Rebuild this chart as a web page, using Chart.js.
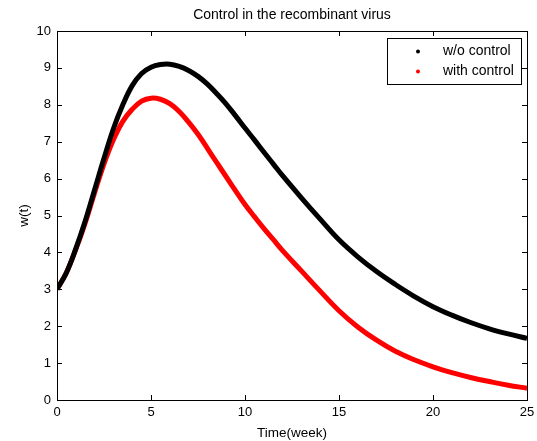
<!DOCTYPE html>
<html lang="en">
<head>
    <meta charset="UTF-8">
    <title>Control in the recombinant virus</title>
    <script src="https://cdn.jsdelivr.net/npm/chart.js"></script>
    <style>
        body { margin: 0; background: #fff; }
        #wrap { width: 537px; height: 441px; }
    </style>
</head>
<body>
    <div id="wrap"><canvas id="virusChart"></canvas></div>

    <script>
        // time in weeks (half steps where the curves bend)
        const weeks = [0, 0.5, 1, 1.5, 2, 2.5, 3, 3.5, 4, 4.5, 5, 5.5, 6, 6.5, 7, 7.5, 8, 8.5, 9, 9.5, 10, 10.5, 11, 11.5, 12,
                       13, 14, 15, 16, 17, 18, 19, 20, 21, 22, 23, 24, 25];
        const withoutControl = [3.0, 3.45, 4.1, 4.85, 5.7, 6.55, 7.35, 8.0, 8.52, 8.85, 9.02, 9.09, 9.1, 9.04, 8.93, 8.77, 8.56, 8.3, 8.02, 7.7, 7.37, 7.05, 6.72, 6.4, 6.08,
                                5.48, 4.9, 4.34, 3.88, 3.48, 3.13, 2.81, 2.53, 2.3, 2.1, 1.93, 1.79, 1.67];
        const withControl = [3.0, 3.45, 4.08, 4.8, 5.62, 6.4, 7.05, 7.55, 7.88, 8.1, 8.18, 8.15, 8.03, 7.82, 7.53, 7.2, 6.82, 6.43, 6.05, 5.67, 5.3, 4.97, 4.65, 4.35, 4.05,
                             3.5, 2.95, 2.42, 1.98, 1.62, 1.32, 1.09, 0.9, 0.74, 0.61, 0.5, 0.4, 0.32];
        const xTicks = [0, 5, 10, 15, 20, 25];
        const yTicks = [0, 1, 2, 3, 4, 5, 6, 7, 8, 9, 10];
        const chartTitle = 'Control in the recombinant virus';

        const font = "'Liberation Sans', Arial, sans-serif";

        function toPoints(vals) {
            return weeks.map((t, i) => ({ x: t, y: vals[i] }));
        }

        // matlab style box with inward ticks, title over the axes and legend in the corner
        const matlabBox = {
            id: 'matlabBox',
            afterDraw(chart) {
                const { ctx, chartArea: a, scales } = chart;
                ctx.save();
                ctx.strokeStyle = '#000';
                ctx.lineWidth = 1;
                ctx.strokeRect(a.left + 0.5, a.top + 0.5, a.right - a.left, a.bottom - a.top);
                ctx.beginPath();
                xTicks.forEach(v => {
                    const px = Math.round(scales.x.getPixelForValue(v)) + 0.5;
                    ctx.moveTo(px, a.bottom); ctx.lineTo(px, a.bottom - 5);
                    ctx.moveTo(px, a.top); ctx.lineTo(px, a.top + 5);
                });
                yTicks.forEach(v => {
                    const py = Math.round(scales.y.getPixelForValue(v)) + 0.5;
                    ctx.moveTo(a.left, py); ctx.lineTo(a.left + 5, py);
                    ctx.moveTo(a.right, py); ctx.lineTo(a.right - 5, py);
                });
                ctx.stroke();

                // title
                ctx.fillStyle = '#000';
                ctx.font = '14px ' + font;
                ctx.textAlign = 'center';
                ctx.textBaseline = 'middle';
                ctx.fillText(chartTitle, (a.left + a.right) / 2, a.top - 16);

                // legend
                const bx = a.right - 140, by = a.top + 7, bw = 134, bh = 46;
                ctx.fillStyle = '#fff';
                ctx.fillRect(bx, by, bw, bh);
                ctx.strokeRect(bx + 0.5, by + 0.5, bw, bh);
                ctx.textAlign = 'left';
                chart.data.datasets.forEach((ds, i) => {
                    const cy = by + 13.5 + i * 20;
                    ctx.fillStyle = ds.borderColor;
                    ctx.beginPath();
                    ctx.arc(bx + 31, cy, 2, 0, Math.PI * 2);
                    ctx.fill();
                    ctx.fillStyle = '#000';
                    ctx.fillText(ds.label, bx + 56, cy);
                });
                ctx.restore();
            }
        };

        new Chart(document.getElementById('virusChart'), {
            type: 'line',
            data: {
                datasets: [{
                    label: 'w/o control',
                    data: toPoints(withoutControl),
                    borderColor: '#000000',
                    borderWidth: 5,
                    pointRadius: 0,
                    tension: 0.4,
                    fill: false
                }, {
                    label: 'with control',
                    data: toPoints(withControl),
                    borderColor: '#ff0000',
                    borderWidth: 5,
                    pointRadius: 0,
                    tension: 0.4,
                    fill: false
                }]
            },
            options: {
                responsive: true,
                maintainAspectRatio: false,
                animation: false,
                layout: { padding: { left: 0, right: 10, top: 31, bottom: 0 } },
                plugins: {
                    legend: { display: false },
                    tooltip: { enabled: false },
                    title: { display: false }
                },
                scales: {
                    x: {
                        type: 'linear',
                        min: 0,
                        max: 25,
                        afterBuildTicks: s => { s.ticks = xTicks.map(v => ({ value: v })); },
                        afterFit: s => { s.height = 41; s.paddingLeft = 0; s.paddingRight = 0; },
                        grid: { display: false, drawTicks: false },
                        border: { display: false },
                        ticks: { color: '#000', font: { family: font, size: 13 }, padding: 5, maxRotation: 0 },
                        title: {
                            display: true,
                            text: 'Time(week)',
                            color: '#000',
                            font: { family: font, size: 13.5 },
                            padding: { top: 0, bottom: 0 }
                        }
                    },
                    y: {
                        min: 0,
                        max: 10,
                        afterBuildTicks: s => { s.ticks = yTicks.map(v => ({ value: v })); },
                        afterFit: s => { s.width = 57; s.paddingTop = 0; s.paddingBottom = 0; },
                        grid: { display: false, drawTicks: false },
                        border: { display: false },
                        ticks: { color: '#000', font: { family: font, size: 13 }, padding: 6 },
                        title: {
                            display: true,
                            text: 'w(t)',
                            color: '#000',
                            font: { family: font, size: 13.5 },
                            padding: { top: 16, bottom: 0 }
                        }
                    }
                }
            },
            plugins: [matlabBox]
        });
    </script>
</body>
</html>
